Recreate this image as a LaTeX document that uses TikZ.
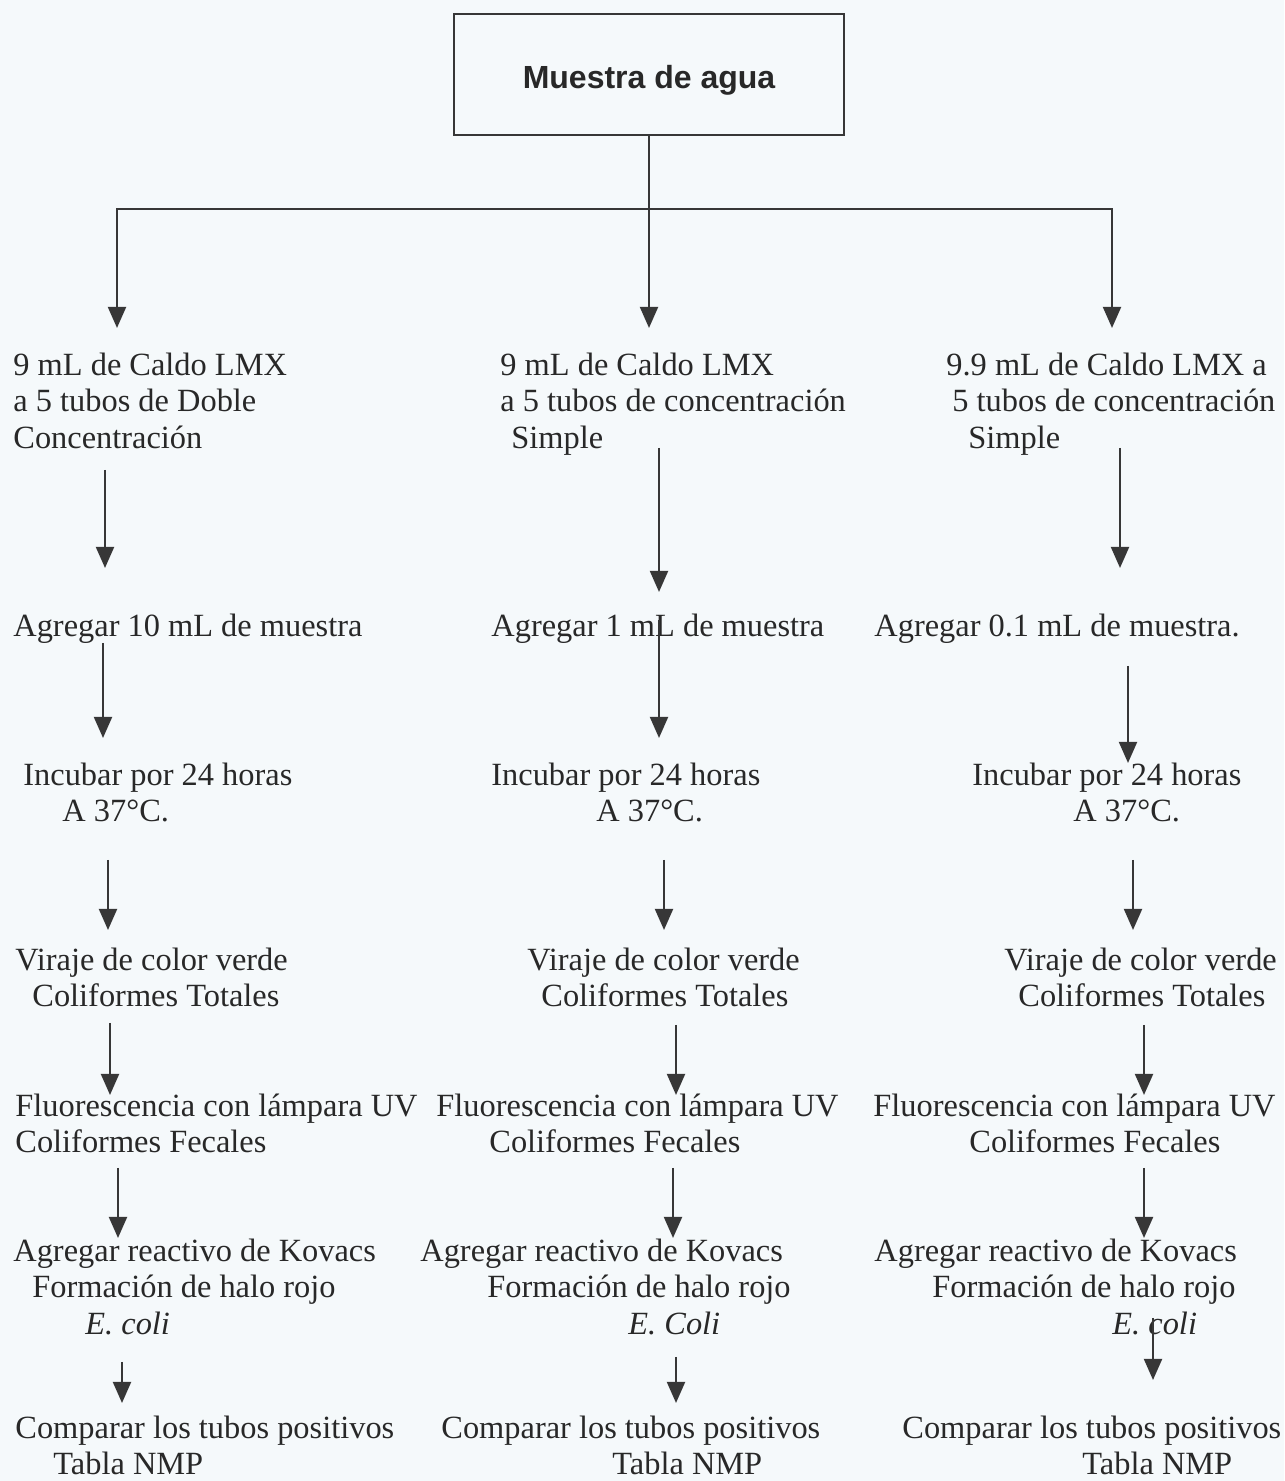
\documentclass[tikz,border=0pt]{standalone}
\usepackage{fontspec}
\setmainfont{Liberation Serif}
\newfontfamily\titlefont{Liberation Sans}
\usetikzlibrary{arrows.meta}

\definecolor{fondo}{RGB}{245,249,251}
\definecolor{tinta}{RGB}{40,40,40}
\definecolor{trazo}{RGB}{55,55,55}

\newcommand{\sangria}[1]{\hspace*{#1pt}}

\begin{document}
\begin{tikzpicture}[x=0.5pt, y=-0.5pt]

	\tikzstyle{caja}=[draw=trazo, line width=1pt, minimum width=195pt, minimum height=60.5pt, text=tinta, font=\titlefont\bfseries\fontsize{16}{19}\selectfont, text height=18pt, text depth=3.5pt]
	\tikzstyle{paso}=[anchor=north west, yshift=12.775pt, inner sep=0pt, align=left, text=tinta, font=\fontsize{16.2}{18.25}\selectfont]

	\tikzstyle{flecha}=[draw=trazo, line width=1pt, -{Triangle[length=10.5pt, width=9pt]}]

	\useasboundingbox (0,0) rectangle (1284,1481);
	\fill[fondo] (0,0) rectangle (1284,1481);

	\node[caja] (muestra) at (649,74.5) {Muestra de agua};

	% columna 1: doble concentracion
	\node[paso] (a1) at (13,375) {\strut 9 mL de Caldo LMX\\a 5 tubos de Doble\\Concentración};
	\node[paso] (a2) at (13,636) {\strut Agregar 10 mL de muestra};
	\node[paso] (a3) at (23,785) {\strut Incubar por 24 horas\\\sangria{19.5}A 37°C.};
	\node[paso] (a4) at (15,970) {\strut Viraje de color verde\\\sangria{8.5}Coliformes Totales};
	\node[paso] (a5) at (15,1116) {\strut Fluorescencia con lámpara UV\\Coliformes Fecales};
	\node[paso] (a6) at (13,1261) {\strut Agregar reactivo de Kovacs\\\sangria{9.5}Formación de halo rojo\\\sangria{36}\textit{E. coli}};
	\node[paso] (a7) at (15,1438) {\strut Comparar los tubos positivos\\\sangria{19}Tabla NMP};

	% columna 2: 1 mL
	\node[paso] (b1) at (500,375) {\strut 9 mL de Caldo LMX\\a 5 tubos de concentración\\\sangria{5.5}Simple};
	\node[paso] (b2) at (491,636) {\strut Agregar 1 mL de muestra};
	\node[paso] (b3) at (491,785) {\strut Incubar por 24 horas\\\sangria{52.5}A 37°C.};
	\node[paso] (b4) at (527,970) {\strut Viraje de color verde\\\sangria{7}Coliformes Totales};
	\node[paso] (b5) at (436,1116) {\strut Fluorescencia con lámpara UV\\\sangria{26.5}Coliformes Fecales};
	\node[paso] (b6) at (420,1261) {\strut Agregar reactivo de Kovacs\\\sangria{33.5}Formación de halo rojo\\\sangria{104}\textit{E. Coli}};
	\node[paso] (b7) at (441,1438) {\strut Comparar los tubos positivos\\\sangria{85.5}Tabla NMP};

	% columna 3: 0.1 mL
	\node[paso] (c1) at (946,375) {\strut 9.9 mL de Caldo LMX a\\\sangria{3}5 tubos de concentración\\\sangria{11}Simple};
	\node[paso] (c2) at (874,636) {\strut Agregar 0.1 mL de muestra.};
	\node[paso] (c3) at (972,785) {\strut Incubar por 24 horas\\\sangria{50.5}A 37°C.};
	\node[paso] (c4) at (1004,970) {\strut Viraje de color verde\\\sangria{7}Coliformes Totales};
	\node[paso] (c5) at (873,1116) {\strut Fluorescencia con lámpara UV\\\sangria{48}Coliformes Fecales};
	\node[paso] (c6) at (874,1261) {\strut Agregar reactivo de Kovacs\\\sangria{29}Formación de halo rojo\\\sangria{119}\textit{E. coli}};
	\node[paso] (c7) at (902,1438) {\strut Comparar los tubos positivos\\\sangria{90}Tabla NMP};

	% reparto de la muestra
	\draw[flecha] (muestra.south) -- ([shift={(149,-21.5)}]b1.north west);
	\draw[flecha] (muestra.south) -- ++(0,73) -| ([shift={(104,-21.5)}]a1.north west);
	\draw[flecha] (muestra.south) -- ++(0,73) -| ([shift={(166,-21.5)}]c1.north west);

	% flechas columna 1
	\draw[flecha] ([shift={(92,120.5)}]a1.north west) -- ([shift={(92,-42.5)}]a2.north west);
	\draw[flecha] ([shift={(90,32.5)}]a2.north west) -- ([shift={(80,-21.5)}]a3.north west);
	\draw[flecha] ([shift={(85,100.5)}]a3.north west) -- ([shift={(93,-14.5)}]a4.north west);
	\draw[flecha] ([shift={(95,78.5)}]a4.north west) -- ([shift={(95,4.5)}]a5.north west);
	\draw[flecha] ([shift={(103,77.5)}]a5.north west) -- ([shift={(105,2.5)}]a6.north west);
	\draw[flecha] ([shift={(109,126.5)}]a6.north west) -- ([shift={(107,-9.5)}]a7.north west);

	% flechas columna 2
	\draw[flecha] ([shift={(159,98.5)}]b1.north west) -- ([shift={(168,-18.5)}]b2.north west);
	\draw[flecha] ([shift={(168,9.5)}]b2.north west) -- ([shift={(168,-21.5)}]b3.north west);
	\draw[flecha] ([shift={(173,100.5)}]b3.north west) -- ([shift={(137,-14.5)}]b4.north west);
	\draw[flecha] ([shift={(149,80.5)}]b4.north west) -- ([shift={(240,4.5)}]b5.north west);
	\draw[flecha] ([shift={(237,77.5)}]b5.north west) -- ([shift={(253,2.5)}]b6.north west);
	\draw[flecha] ([shift={(256,121.5)}]b6.north west) -- ([shift={(235,-9.5)}]b7.north west);

	% flechas columna 3
	\draw[flecha] ([shift={(174,98.5)}]c1.north west) -- ([shift={(246,-42.5)}]c2.north west);
	\draw[flecha] ([shift={(254,55.5)}]c2.north west) -- ([shift={(156,3.5)}]c3.north west);
	\draw[flecha] ([shift={(161,100.5)}]c3.north west) -- ([shift={(129,-14.5)}]c4.north west);
	\draw[flecha] ([shift={(140,80.5)}]c4.north west) -- ([shift={(271,4.5)}]c5.north west);
	\draw[flecha] ([shift={(271,77.5)}]c5.north west) -- ([shift={(270,2.5)}]c6.north west);
	\draw[flecha] ([shift={(279,82.5)}]c6.north west) -- ([shift={(251,-32.5)}]c7.north west);

\end{tikzpicture}
\end{document}
